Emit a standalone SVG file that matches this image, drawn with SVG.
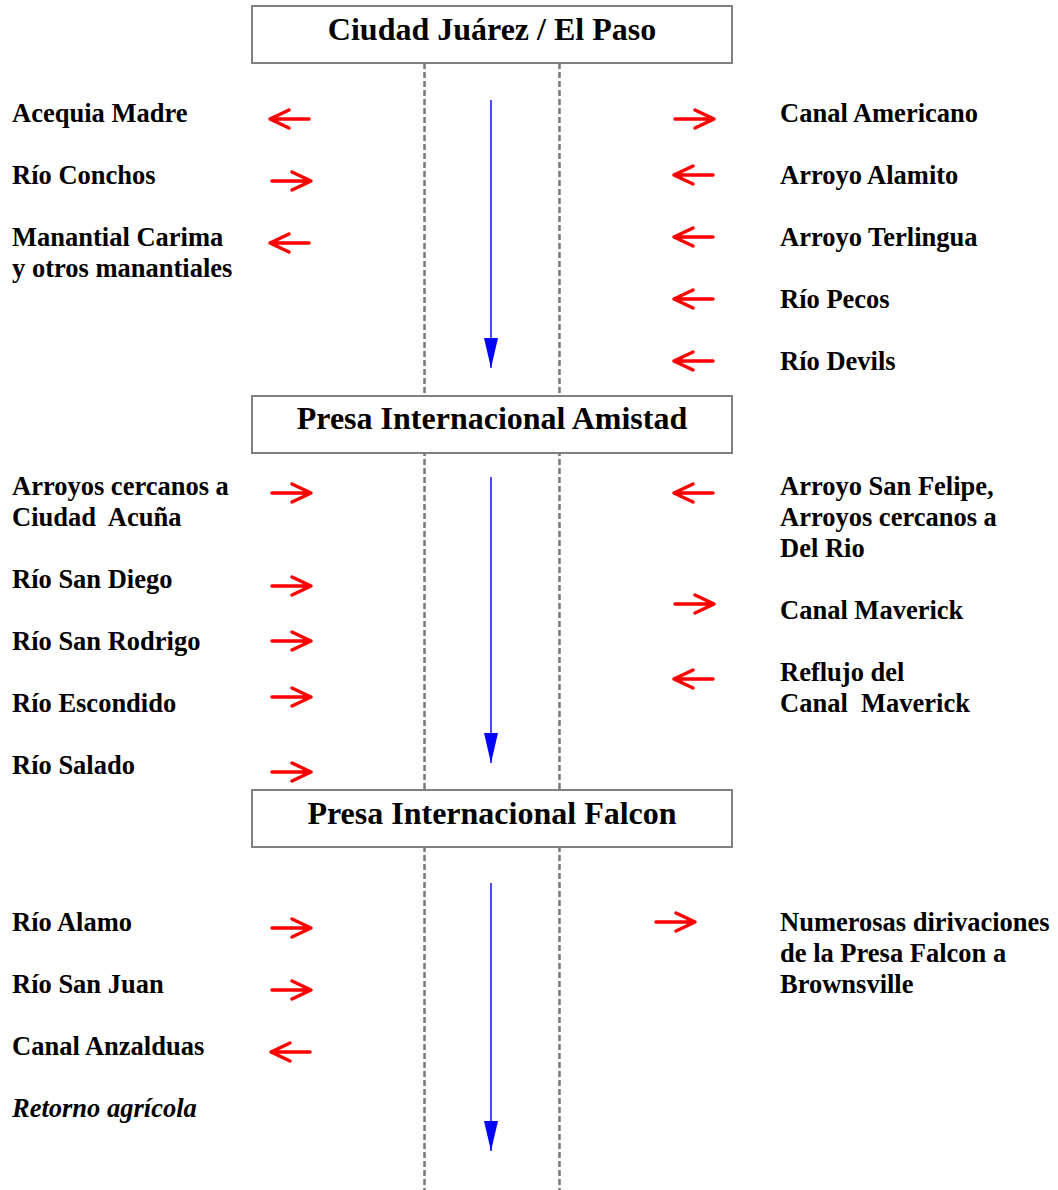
<svg xmlns="http://www.w3.org/2000/svg" xmlns:xlink="http://www.w3.org/1999/xlink" width="1058" height="1190" viewBox="0 0 1058 1190">
<style>
.box{fill:#fff;stroke:#808080;stroke-width:2}
.title{font-family:"Liberation Serif","Times New Roman",serif;font-weight:bold;font-size:32px;fill:#000;text-anchor:middle}
.lbl{font-family:"Liberation Serif","Times New Roman",serif;font-weight:bold;font-size:26.5px;fill:#000}
.it{font-style:italic}
.guide{stroke:#777;stroke-width:2.5;stroke-dasharray:6 3;fill:none}
.flow{stroke:#0000ff;stroke-width:1.4;fill:none;marker-end:url(#bh)}
.red{stroke:#ff0000;stroke-width:3.5;fill:none;stroke-linecap:round;stroke-linejoin:round}
</style>
<defs>
<marker id="bh" markerUnits="userSpaceOnUse" markerWidth="30" markerHeight="14" refX="30" refY="7" orient="auto">
<polygon points="0,0 30,7 0,14" fill="#0000ff"/>
</marker>
<path id="ar" class="red" d="M0 0 H39 M20 -9 L39 0 L20 9"/>
<path id="al" class="red" d="M39 0 H0 M19 -9 L0 0 L19 9"/>
</defs>
<rect width="1058" height="1190" fill="#fff"/>
<g id="guides">
<line class="guide" x1="424.5" y1="63" x2="424.5" y2="1190"/>
<line class="guide" x1="559.5" y1="63" x2="559.5" y2="1190"/>
</g>
<g id="connectors">
<line class="flow" x1="491" y1="100" x2="491" y2="368"/>
<line class="flow" x1="491" y1="477" x2="491" y2="763"/>
<line class="flow" x1="491" y1="883" x2="491" y2="1151"/>
<use xlink:href="#al" x="270" y="119"/>
<use xlink:href="#ar" x="272" y="181"/>
<use xlink:href="#al" x="270" y="243"/>
<use xlink:href="#ar" x="675" y="119"/>
<use xlink:href="#al" x="674" y="175"/>
<use xlink:href="#al" x="674" y="237"/>
<use xlink:href="#al" x="674" y="299"/>
<use xlink:href="#al" x="674" y="361"/>
<use xlink:href="#ar" x="272" y="493"/>
<use xlink:href="#ar" x="272" y="586"/>
<use xlink:href="#ar" x="272" y="641"/>
<use xlink:href="#ar" x="272" y="697"/>
<use xlink:href="#ar" x="272" y="772"/>
<use xlink:href="#al" x="674" y="493"/>
<use xlink:href="#ar" x="675" y="604"/>
<use xlink:href="#al" x="674" y="679"/>
<use xlink:href="#ar" x="272" y="928"/>
<use xlink:href="#ar" x="272" y="990"/>
<use xlink:href="#al" x="271" y="1052"/>
<use xlink:href="#ar" x="656" y="922"/>
</g>
<g id="node-juarez">
<rect class="box" x="252" y="6" width="480" height="57"/>
<text class="title" x="492" y="40">Ciudad Juárez / El Paso</text>
</g>
<g id="node-amistad">
<rect class="box" x="252" y="396" width="480" height="57"/>
<text class="title" x="492" y="429">Presa Internacional Amistad</text>
</g>
<g id="node-falcon">
<rect class="box" x="252" y="790" width="480" height="57"/>
<text class="title" x="492" y="824">Presa Internacional Falcon</text>
</g>
<g id="node-acequia"><text class="lbl" x="12" y="122">Acequia Madre</text></g>
<g id="node-conchos"><text class="lbl" x="12" y="184">Río Conchos</text></g>
<g id="node-carima"><text class="lbl" x="12" y="246">Manantial Carima</text><text class="lbl" x="12" y="277">y otros manantiales</text></g>
<g id="node-americano"><text class="lbl" x="780" y="122">Canal Americano</text></g>
<g id="node-alamito"><text class="lbl" x="780" y="184">Arroyo Alamito</text></g>
<g id="node-terlingua"><text class="lbl" x="780" y="246">Arroyo Terlingua</text></g>
<g id="node-pecos"><text class="lbl" x="780" y="308">Río Pecos</text></g>
<g id="node-devils"><text class="lbl" x="780" y="370">Río Devils</text></g>
<g id="node-acuna"><text class="lbl" x="12" y="495">Arroyos cercanos a</text><text class="lbl" x="12" y="526" xml:space="preserve">Ciudad  Acuña</text></g>
<g id="node-sandiego"><text class="lbl" x="12" y="588">Río San Diego</text></g>
<g id="node-sanrodrigo"><text class="lbl" x="12" y="650">Río San Rodrigo</text></g>
<g id="node-escondido"><text class="lbl" x="12" y="712">Río Escondido</text></g>
<g id="node-salado"><text class="lbl" x="12" y="774">Río Salado</text></g>
<g id="node-sanfelipe"><text class="lbl" x="780" y="495">Arroyo San Felipe,</text><text class="lbl" x="780" y="526">Arroyos cercanos a</text><text class="lbl" x="780" y="557">Del Rio</text></g>
<g id="node-maverick"><text class="lbl" x="780" y="619">Canal Maverick</text></g>
<g id="node-reflujo"><text class="lbl" x="780" y="681">Reflujo del</text><text class="lbl" x="780" y="712" xml:space="preserve">Canal  Maverick</text></g>
<g id="node-alamo"><text class="lbl" x="12" y="931">Río Alamo</text></g>
<g id="node-sanjuan"><text class="lbl" x="12" y="993">Río San Juan</text></g>
<g id="node-anzalduas"><text class="lbl" x="12" y="1055">Canal Anzalduas</text></g>
<g id="node-retorno"><text class="lbl it" x="12" y="1117">Retorno agrícola</text></g>
<g id="node-numerosas"><text class="lbl" x="780" y="931">Numerosas dirivaciones</text><text class="lbl" x="780" y="962">de la Presa Falcon a</text><text class="lbl" x="780" y="993">Brownsville</text></g>
</svg>
